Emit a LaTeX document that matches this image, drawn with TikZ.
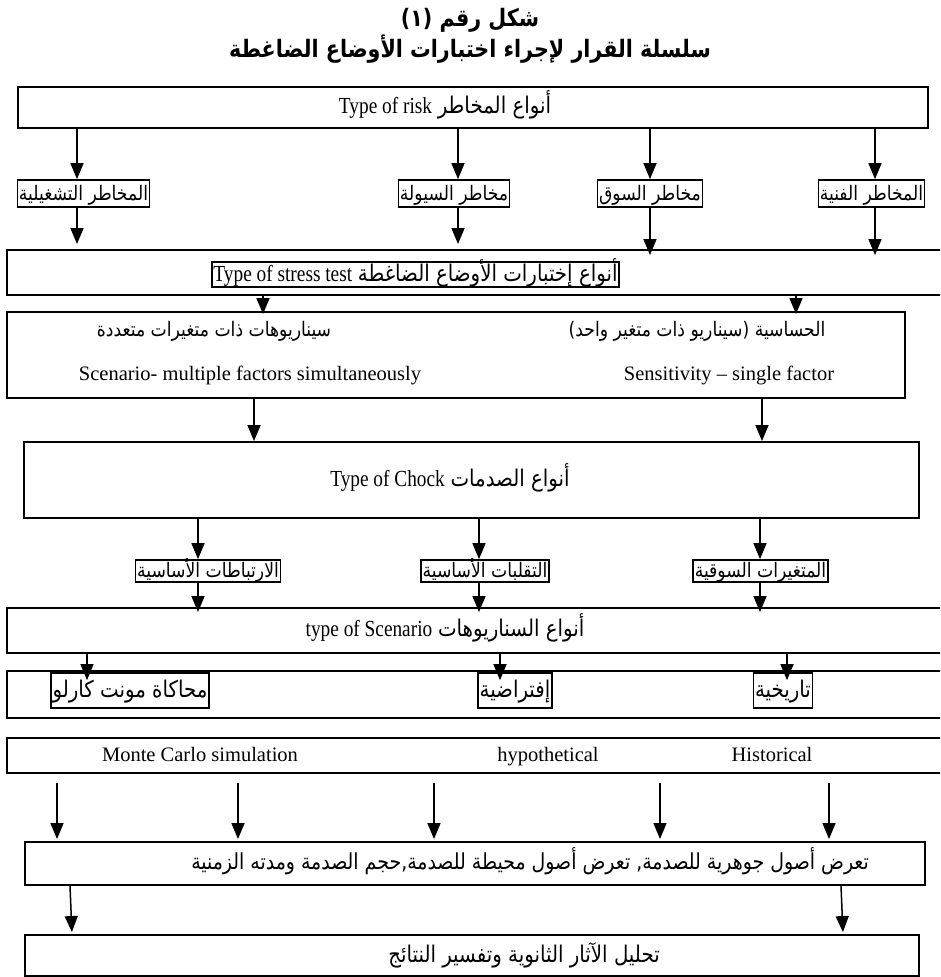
\documentclass[tikz,border=0pt]{standalone}
\usepackage{fontspec}
\setmainfont{Liberation Serif}
\newfontfamily\ar[Script=Arabic,FakeStretch=0.86]{DejaVu Sans}
\newfontfamily\en[FakeStretch=0.84]{Liberation Serif}
\TeXXeTstate=1
\usetikzlibrary{arrows.meta,calc}
\newcommand{\AR}[1]{{\ar\beginR #1\endR}}
\begin{document}
\begin{tikzpicture}[x=1pt,y=-1pt,
  every node/.style={font=\fontsize{20}{24}\selectfont, inner sep=0pt, text height=16pt, text depth=3pt},
  big/.style={font=\fontsize{23}{27}\selectfont},
  eng/.style={font=\fontsize{20.5}{24}\selectfont},
  box/.style={draw, line width=1.9pt},
  lab/.style={draw, line width=1.7pt, inner xsep=1.5pt, inner ysep=0pt},
  arr/.style={line width=1.5pt, -{Triangle[width=13pt,length=16pt]}}]
\clip (0,0) rectangle (940,977);
% titles
\node[font=\ar\bfseries\fontsize{24}{28}\selectfont] (t1) at (470,20) {\beginR شكل رقم (١)\endR};
\node[font=\ar\bfseries\fontsize{24}{28}\selectfont] (t2) at (470,51) {\beginR سلسلة القرار لإجراء اختبارات الأوضاع الضاغطة\endR};
% box 1
\node[box, minimum width=910pt, minimum height=41pt] (b1) at (473,107.5) {};
\node[big] (b1t) at (445,107) {{\en Type of risk} \AR{أنواع المخاطر}};
% risk labels
\node[lab, minimum height=27pt] (r1) at (83.5,193.5) {\AR{المخاطر التشغيلية}};
\node[lab, minimum height=27pt] (r2) at (454,193.5) {\AR{مخاطر السيولة}};
\node[lab, minimum height=27pt] (r3) at (650,193.5) {\AR{مخاطر السوق}};
\node[lab, minimum height=27pt] (r4) at (871.5,193.5) {\AR{المخاطر الفنية}};
% box 2
\node[box, minimum width=941pt, minimum height=45pt] (b2) at (477.5,272.5) {};
\node[lab, big, minimum height=25pt] (b2t) at (415.5,274.5) {{\en Type of stress test} \AR{أنواع إختبارات الأوضاع الضاغطة}};
% box 3
\node[box, minimum width=898pt, minimum height=86pt] (b3) at (456,355) {};
\node (a3l) at (214,330) {\AR{سيناريوهات ذات متغيرات متعددة}};
\node[eng] (e3l) at (250,374) {Scenario- multiple factors simultaneously};
\node (a3r) at (697,330) {\AR{الحساسية (سيناريو ذات متغير واحد)}};
\node[eng] (e3r) at (729,374) {Sensitivity – single factor};
% box 4
\node[box, minimum width=895pt, minimum height=76pt] (b4) at (471.5,480) {};
\node[big] (b4t) at (450,480) {{\en Type of Chock} \AR{أنواع الصدمات}};
% shock labels
\node[lab, minimum height=22pt] (s1) at (208,571) {\AR{الارتباطات الأساسية}};
\node[lab, minimum height=22pt] (s2) at (485,571) {\AR{التقلبات الأساسية}};
\node[lab, minimum height=22pt] (s3) at (760.5,571) {\AR{المتغيرات السوقية}};
% box 5
\node[box, minimum width=941pt, minimum height=45pt] (b5) at (477.5,630.5) {};
\node[big] (b5t) at (445,630) {{\en type of Scenario} \AR{أنواع السناريوهات}};
% box 6
\node[box, minimum width=941pt, minimum height=47pt] (b6) at (477.5,694.5) {};
\node[lab, big, minimum height=35pt] (m1) at (130,690.5) {\AR{محاكاة مونت كارلو}};
\node[lab, big, minimum height=35pt] (m2) at (515,690.5) {\AR{إفتراضية}};
\node[lab, big, minimum height=35pt] (m3) at (783,690.5) {\AR{تاريخية}};
% box 7
\node[box, minimum width=941pt, minimum height=35pt] (b7) at (477.5,755.5) {};
\node[eng] (e7a) at (200,755) {Monte Carlo simulation};
\node[eng] (e7b) at (548,755) {hypothetical};
\node[eng] (e7c) at (772,755) {Historical};
% box 8
\node[box, minimum width=900pt, minimum height=43pt] (b8) at (475,863.5) {};
\node[font=\ar\fontsize{22}{26}\selectfont] (b8t) at (530,863) {\beginR تعرض أصول جوهرية للصدمة, تعرض أصول محيطة للصدمة,حجم الصدمة ومدته الزمنية\endR};
% box 9
\node[box, minimum width=894pt, minimum height=41pt] (b9) at (472,955.5) {};
\node[big] (b9t) at (524,956) {\AR{تحليل الآثار الثانوية وتفسير النتائج}};
% arrows
\draw[arr] (b1.south -| 77,0) -- (r1.north -| 77,0);
\draw[arr] (b1.south -| 458,0) -- (r2.north -| 458,0);
\draw[arr] (b1.south -| 650,0) -- (r3.north -| 650,0);
\draw[arr] (b1.south -| 875,0) -- (r4.north -| 875,0);
\draw[arr, shorten >=5pt] (r1.south -| 77,0) -- (b2.north -| 77,0);
\draw[arr, shorten >=5pt] (r2.south -| 458,0) -- (b2.north -| 458,0);
\draw[arr, shorten >=-6pt] (r3.south -| 650,0) -- (b2.north -| 650,0);
\draw[arr, shorten >=-6pt] (r4.south -| 875,0) -- (b2.north -| 875,0);
\draw[arr, shorten >=-3pt] (b2.south -| 263,0) -- (b3.north -| 263,0);
\draw[arr, shorten >=-3pt] (b2.south -| 796,0) -- (b3.north -| 796,0);
\draw[arr] (b3.south -| 254,0) -- (b4.north -| 254,0);
\draw[arr] (b3.south -| 762,0) -- (b4.north -| 762,0);
\draw[arr] (b4.south -| 198,0) -- (s1.north -| 198,0);
\draw[arr] (b4.south -| 479,0) -- (s2.north -| 479,0);
\draw[arr] (b4.south -| 760,0) -- (s3.north -| 760,0);
\draw[arr, shorten >=-5pt] (s1.south -| 198,0) -- (b5.north -| 198,0);
\draw[arr, shorten >=-5pt] (s2.south -| 479,0) -- (b5.north -| 479,0);
\draw[arr, shorten >=-5pt] (s3.south -| 760,0) -- (b5.north -| 760,0);
\draw[arr, shorten >=-8pt] (b5.south -| 87,0) -- (m1.north -| 87,0);
\draw[arr, shorten >=-8pt] (b5.south -| 500,0) -- (m2.north -| 500,0);
\draw[arr, shorten >=-8pt] (b5.south -| 787,0) -- (m3.north -| 787,0);
\foreach \xx in {57,238,434,660,829}
  \draw[arr, shorten <=9pt, shorten >=2pt] (b7.south -| \xx,0) -- (b8.north -| \xx,0);
\draw[arr, shorten >=2pt] (b8.south -| 70,0) -- (b9.north -| 72,0);
\draw[arr, shorten >=2pt] (b8.south -| 841,0) -- (b9.north -| 843,0);
\end{tikzpicture}
\end{document}
